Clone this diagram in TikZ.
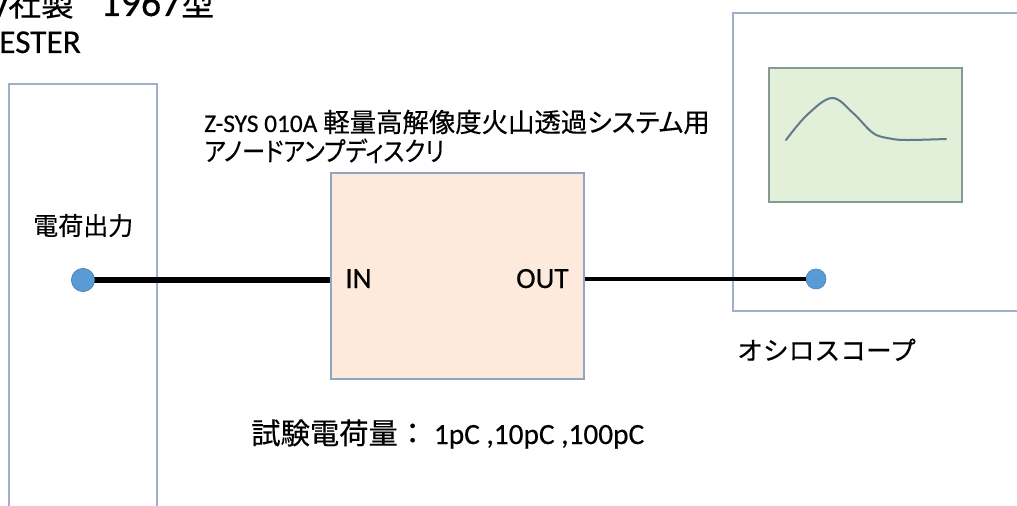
\documentclass[tikz,border=0pt]{standalone}
\usepackage{fontspec}
\setmainfont[FakeBold=0.35]{Noto Sans CJK JP}
\newfontfamily\cjkp[RawFeature={+palt},FakeBold=0.35]{Noto Sans CJK JP}
\newfontfamily\lat[FakeBold=0.4]{Carlito}
\usetikzlibrary{fit}
\definecolor{boxline}{HTML}{9FB0C8}
\definecolor{ampfill}{HTML}{FDEADC}
\definecolor{ampline}{HTML}{8FA5C0}
\definecolor{scrfill}{HTML}{E2EFD9}
\definecolor{scrline}{HTML}{869A94}
\definecolor{wave}{HTML}{5F7B8C}
\definecolor{dotfill}{HTML}{5B9BD5}
\definecolor{dotline}{HTML}{4A86C0}
\begin{document}
\begin{tikzpicture}[x=0.75pt,y=-0.75pt,
  panel/.style={draw=boxline,line width=1.5pt,inner sep=0pt},
  jack/.style={circle,fill=dotfill,draw=dotline,line width=0.5pt,inner sep=0pt},
  lbl/.style={anchor=base west,inner sep=0pt,text=black}]
\useasboundingbox (0,0) rectangle (1017,506);
\fill[white] (0,0) rectangle (1017,506);

% boxes
\node[panel,fit={(9,84)(157,530)}] (tester) {};
\node[panel,draw=ampline,line width=1.1pt,fill=ampfill,fit={(331,173)(584,379)}] (amp) {};
\node[panel,fit={(733,13)(1040,311)}] (scope) {};
\node[panel,draw=scrline,line width=1.1pt,fill=scrfill,fit={(769,68)(962,202)}] (screen) {};

% waveform
\draw[wave,line width=1.5pt,line cap=round] plot[smooth,tension=0.6] coordinates
  {(786,140) (807,115) (832,98) (853,113) (873,133) (890,138.5) (907,140) (946,139)};

% jacks
\node[jack,minimum size=23*0.75pt] (qout) at (83,280) {};
\node[jack,minimum size=20*0.75pt] (scin) at (816,279) {};

% cables
\draw[line width=3.8pt] (qout.center) -- (qout.center -| amp.west);
\draw[line width=2.6pt] (scin.center -| amp.east) -- (scin.west);
\node[jack,minimum size=23*0.75pt] at (qout) {};

% texts
\node[lbl,font=\fontsize{24.5}{28}\selectfont] (maker) at (-10,16) {{\lat\fontsize{30}{34}\selectfont y}社製\hspace{20pt}{\lat\fontsize{30}{34}\selectfont 1967}型};
\node[lbl,font=\lat\fontsize{25}{29}\selectfont] (tname) at (-1,53) {ESTER};
\node[lbl,font=\fontsize{18.75}{22}\selectfont] (qlbl) at (33,235) {電荷出力};
\node[lbl,font=\cjkp\fontsize{19.8}{23}\selectfont] (title1) at (204,132) {{\lat\fontsize{19}{23}\selectfont Z-SYS 010A} 軽量高解像度火山透過システム用};
\node[lbl,font=\cjkp\fontsize{19.8}{23}\selectfont] (title2) at (204,161) {\scalebox{0.88}[1]{アノードアンプディスクリ}};
\node[lbl,font=\lat\fontsize{22}{26}\selectfont] (inlbl) at (345,288) {IN};
\node[lbl,anchor=base east,font=\lat\fontsize{22}{26}\selectfont] (outlbl) at (569,288) {OUT};
\node[lbl,font=\fontsize{19.3}{23}\selectfont] (sclbl) at (737,360) {オシロスコープ};
\node[lbl,font=\fontsize{22}{26}\selectfont] (charge) at (251,444) {試験電荷量：\hspace{5pt}{\lat 1pC ,10pC ,100pC}};
\end{tikzpicture}
\end{document}
